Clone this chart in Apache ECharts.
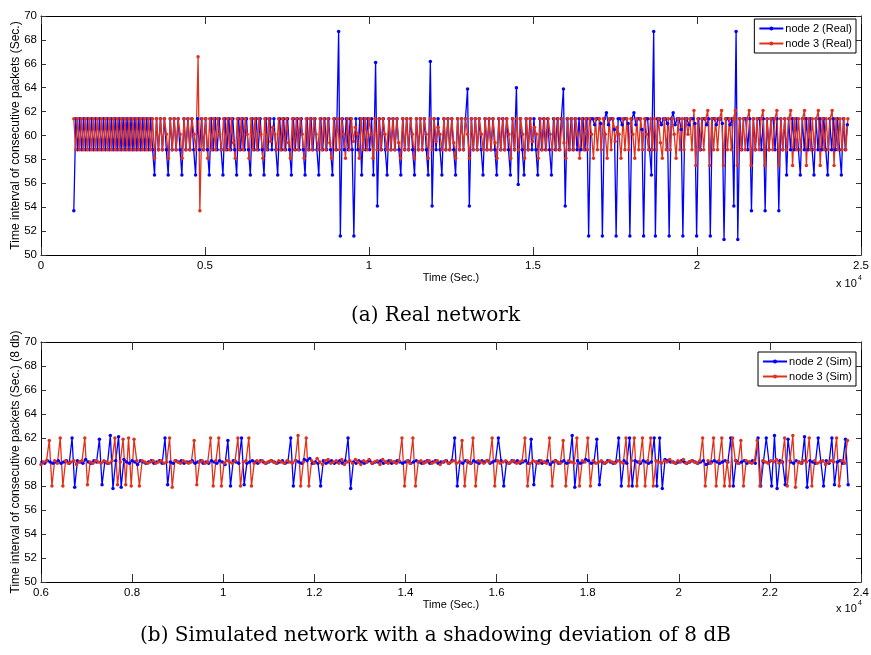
<!doctype html>
<html>
<head>
<meta charset="utf-8">
<title>Time interval of consecutive packets</title>
<script src="https://cdn.jsdelivr.net/npm/echarts@6/dist/echarts.min.js"></script>
<style>
    html, body {margin: 0; padding: 0; background: #fff;}
    #chart {width: 871px; height: 655px;}
</style>
</head>
<body>
<div id="chart"></div>
<script>
    // (a) real network: interval between consecutive packets (sec), first packet time
    const realStart2 = 1000;
    const realStart3 = 1000;
    const realNode2 = [
        53.7,
        61.4, 58.8, 61.4, 58.8, 61.4, 58.8, 61.4, 58.8, 61.4, 58.8,
        61.4, 58.8, 61.4, 58.8, 61.4, 58.8, 61.4, 58.8, 61.4, 58.8,
        61.4, 58.8, 61.4, 58.8, 61.4, 58.8, 61.4, 58.8, 61.4, 58.8,
        61.4, 58.8, 61.4, 58.8, 61.4, 58.8, 61.4, 58.8, 61.4, 58.8,
        56.7, 61.4, 58.8, 61.4, 58.8, 61.4, 58.8,
        56.7, 61.4, 58.8, 61.4, 58.8, 61.4, 58.8,
        56.7, 61.4, 58.8, 61.4, 58.8, 61.4, 58.8,
        56.7, 61.4, 58.8, 61.4, 58.8, 61.4, 58.8,
        56.7, 61.4, 58.8, 61.4, 58.8, 61.4, 58.8,
        56.7, 61.4, 58.8, 61.4, 58.8, 61.4, 58.8,
        56.7, 61.4, 58.8, 61.4, 58.8, 61.4, 58.8,
        56.7, 61.4, 58.8, 61.4, 58.8, 61.4, 58.8,
        56.7, 61.4, 58.8, 61.4, 58.8, 61.4, 58.8,
        56.7, 61.4, 58.8, 61.4, 58.8, 61.4, 58.8,
        56.7, 61.4, 58.8, 61.4, 58.8, 61.4, 58.8,
        56.7, 61.4, 58.8, 61.4, 58.8, 61.4, 58.8,
        56.7, 61.4, 58.8, 61.4, 58.8, 61.4, 58.8,
        56.7, 61.4, 58.8, 68.7, 51.6, 61.4, 58.8, 61.4, 58.8, 61.4, 58.8, 51.6,
        61.4, 58.8, 61.4, 56.7, 61.4, 58.8, 61.4, 58.8, 61.4, 56.7, 66.1, 54.1,
        61.4, 58.8, 61.4, 58.8, 56.7,
        61.4, 58.8, 61.4, 58.8, 61.4, 58.8, 56.7,
        61.4, 58.8, 61.4, 58.8, 61.4, 58.8, 56.7,
        61.4, 58.8, 61.4, 58.8, 61.4, 58.8, 56.7,
        66.2, 54.1, 61.4, 58.8, 61.4, 58.8, 56.7,
        61.4, 58.8, 61.4, 58.8, 61.4, 58.8, 56.7,
        61.4, 58.8, 61.4, 58.8, 61.4, 63.9, 54.1,
        61.4, 58.8, 61.4, 58.8, 61.4, 58.8, 56.7,
        61.4, 58.8, 61.4, 58.8, 61.4, 58.8, 56.7,
        61.4, 58.8, 61.4, 58.8, 61.4, 58.8, 56.7,
        61.4, 58.8, 64.0, 55.9, 61.4, 58.8, 56.7,
        61.4, 58.8, 61.4, 58.8, 61.4, 58.8, 56.7,
        61.4, 58.8, 61.4, 58.8, 61.4, 58.8, 56.7,
        61.4, 58.8, 61.4, 58.8, 61.4, 63.9, 54.1,
        61.4, 58.8, 61.4, 58.8, 61.4, 58.8, 61.4, 58.8, 61.4, 58.8, 61.4, 51.6,
        61.4, 61.4, 60.9, 61.4, 61.4, 61.0, 51.6,
        61.4, 61.9, 60.9, 61.4, 61.4, 60.5, 51.6,
        61.4, 61.4, 60.9, 61.4, 61.4, 61.0, 51.6,
        61.4, 61.9, 60.9, 61.4, 61.4, 60.5, 51.6,
        61.4, 61.4, 58.8, 56.7, 68.7, 51.6,
        61.4, 61.4, 60.9, 61.4, 61.4, 61.0, 51.6,
        61.4, 61.9, 60.9, 61.4, 61.4, 60.5, 51.6,
        61.4, 61.4, 60.9, 61.4, 61.4, 61.0, 51.6,
        61.4, 58.8, 61.4, 61.4, 60.9, 61.4, 51.6,
        61.4, 61.4, 60.9, 61.4, 61.4, 61.0, 51.3,
        61.4, 61.4, 60.9, 61.4, 54.1, 68.7, 51.3,
        61.4, 58.8, 61.4, 61.4, 58.8, 61.4, 53.7,
        61.4, 58.8, 61.4, 61.4, 58.8, 61.4, 53.7,
        61.4, 58.8, 61.4, 61.4, 58.8, 61.4, 53.7,
        61.4, 58.8, 61.4, 56.7,
        61.4, 58.8, 61.4, 58.8, 61.4, 58.8, 56.7,
        61.4, 58.8, 61.4, 58.8, 61.4, 58.8, 56.7,
        61.4, 58.8, 61.4, 58.8, 61.4, 58.8, 56.7,
        61.4, 58.8, 61.4, 58.8, 61.4, 58.8, 56.7,
        61.4, 58.8, 60.9
    ];
    const realNode3 = [
        61.4,
        58.8, 61.4, 58.8, 61.4, 58.8, 61.4, 58.8, 61.4, 58.8, 61.4,
        58.8, 61.4, 58.8, 61.4, 58.8, 61.4, 58.8, 61.4, 58.8, 61.4,
        58.8, 61.4, 58.8, 61.4, 58.8, 61.4, 58.8, 61.4, 58.8, 61.4,
        58.8, 61.4, 58.8, 61.4, 58.8, 61.4, 58.8, 61.4, 58.8, 61.4,
        58.1, 61.4, 58.8, 61.4, 58.8, 61.4, 60.1,
        58.1, 61.4, 58.8, 61.4, 58.8, 61.4, 60.1,
        58.1, 61.4, 58.8, 61.4, 58.8, 61.4, 60.1,
        58.8, 66.6, 53.7, 61.4, 58.8, 61.4,
        58.1, 61.4, 58.8, 61.4, 58.8, 61.4, 60.1,
        58.8, 61.4, 58.8, 61.4, 58.8, 61.4, 59.4,
        58.1, 61.4, 58.8, 61.4, 58.8, 61.4, 60.1,
        58.1, 61.4, 58.8, 61.4, 58.8, 61.4, 60.1,
        58.1, 61.4, 58.8, 61.4, 59.5, 60.7, 60.1,
        58.8, 61.4, 58.8, 61.4, 58.8, 61.4, 59.4,
        58.1, 61.4, 58.8, 61.4, 58.8, 61.4, 60.1,
        58.1, 61.4, 58.8, 61.4, 58.8, 61.4, 60.1,
        58.8, 61.4, 58.8, 61.4, 58.8, 61.4, 59.4,
        58.1, 61.4, 58.8, 61.4, 58.8, 61.4, 60.1,
        58.1, 61.4, 58.8, 61.4, 59.5, 60.7, 60.1,
        58.1, 61.4, 58.8, 61.4, 58.8, 61.4, 60.1,
        58.1, 61.4, 58.8, 61.4, 58.8, 61.4, 60.1,
        58.8, 61.4, 58.8, 61.4, 58.8, 61.4, 59.4,
        58.1, 61.4, 58.8, 61.4, 58.8, 61.4, 60.1,
        58.1, 61.4, 58.8, 61.4, 58.8, 61.4, 60.1,
        58.1, 61.4, 58.8, 61.4, 59.5, 60.7, 60.1,
        58.8, 61.4, 58.8, 61.4, 58.8, 61.4, 59.4,
        58.1, 61.4, 58.8, 61.4, 58.8, 61.4, 60.1,
        58.1, 61.4, 58.8, 61.4, 58.8, 61.4, 60.1,
        58.8, 61.4, 58.8, 61.4, 58.8, 61.4, 59.4,
        58.1, 61.4, 58.8, 61.4, 58.8, 61.4, 60.1,
        58.1, 61.4, 58.8, 61.4, 58.8, 61.4, 60.1,
        58.1, 61.4, 58.8, 61.4, 59.5, 60.7, 60.1,
        58.1, 61.4, 58.8, 61.4, 58.8, 61.4, 60.1,
        58.8, 61.4, 58.8, 61.4, 58.8, 61.4, 59.4,
        58.1, 61.4, 58.8, 61.4, 58.8, 61.4, 60.1,
        58.1, 61.4, 58.8, 61.4, 58.8, 61.4, 60.1,
        58.1, 61.4, 58.8, 61.4, 58.8, 61.4, 60.1,
        58.1, 61.4, 58.8, 61.4, 59.5, 60.7, 60.1,
        58.1, 61.4, 58.8, 61.4, 58.8, 61.4, 60.1,
        58.1, 61.4, 58.8, 61.4, 58.8, 61.4, 60.1,
        58.8, 61.4, 58.8, 61.4, 58.8, 61.4, 59.4,
        58.1, 61.4, 58.8, 61.4, 58.8, 61.4, 60.1,
        58.1, 61.4, 58.8, 61.4, 58.8, 61.4, 60.1,
        61.4, 58.8,
        62.1, 57.5, 61.4, 58.8, 61.4, 58.8, 61.4,
        62.1, 57.5, 61.4, 58.8, 61.4, 58.8, 61.4,
        62.1, 57.5, 61.4, 58.8, 61.4, 58.8, 61.4,
        62.1, 57.5, 61.4, 58.8, 61.4, 58.8, 61.4,
        62.1, 57.5, 61.4, 58.8, 61.4, 58.8, 61.4,
        62.1, 57.5, 61.4, 58.8, 61.4, 58.8, 61.4,
        62.1, 57.5, 61.4, 58.8, 61.4, 58.8, 61.4,
        62.1, 57.5, 61.4, 58.8, 61.4, 58.8, 61.4,
        62.1, 57.5, 61.4, 58.8, 61.4, 58.8, 61.4,
        62.1, 57.5, 61.4, 58.8, 61.4, 58.8, 61.4,
        62.1, 57.5, 61.4, 58.8, 61.4, 58.8, 61.4, 58.8, 61.4
    ];

    // (b) simulated network, 8 dB shadowing
    const simStart2 = 6020;
    const simStart3 = 6000;
    const simNode2 = [
        60.0, 59.9, 60.1, 60.0, 59.9, 60.0, 60.1, 59.9, 60.0, 60.1,
        59.9, 62.0, 57.9, 60.1, 60.0, 59.9, 60.2, 60.0, 59.9, 60.1,
        60.0, 61.9, 58.1, 60.0, 59.9, 62.2, 57.8, 60.1, 62.1, 57.9,
        60.2, 60.0, 59.9, 60.1, 60.0, 59.8, 60.1, 60.0, 59.9, 60.0,
        60.1, 59.9, 60.0, 60.1, 59.9, 62.0, 58.1, 60.0, 59.9, 60.1,
        60.0, 60.1, 59.9, 60.0, 60.0, 60.1, 59.9, 60.0, 60.1, 59.9,
        60.0, 59.9, 60.1, 60.0, 59.9, 60.1, 60.0, 59.8, 61.8, 58.0,
        60.1, 60.0, 59.9, 62.0, 58.1, 59.9, 60.0, 60.1, 60.0, 59.9,
        60.1, 60.0, 59.9, 60.0, 60.1, 60.0, 59.9, 60.0, 60.1, 59.9,
        60.0, 62.0, 58.0, 60.1, 60.0, 59.9, 60.2, 60.1, 60.3, 59.9,
        60.0, 59.9, 58.0, 60.1, 59.9, 60.0, 60.1, 59.9, 60.0, 60.1,
        59.9, 60.1, 62.0, 57.8, 60.0, 59.9, 60.1, 60.0, 59.9, 60.0,
        60.1, 59.9, 60.0, 60.0, 60.1, 59.9, 60.0, 60.1, 59.9, 60.0,
        60.1, 60.0, 59.9, 60.0, 60.1, 59.9, 60.0, 60.1, 60.0, 59.9,
        60.0, 60.1, 59.9, 60.0, 60.1, 59.9, 60.0, 60.0, 60.1, 59.9,
        60.1, 62.0, 58.0, 60.0, 59.9, 60.1, 60.0, 59.9, 60.1, 60.0,
        59.9, 60.1, 60.0, 60.1, 59.9, 60.0, 60.1, 62.0, 60.1, 58.0,
        60.0, 59.9, 60.1, 60.0, 60.1, 59.9, 60.0, 60.1, 59.9, 61.9,
        58.1, 60.0, 60.1, 59.9, 60.0, 60.1, 59.8, 60.0, 60.1, 59.9,
        60.0, 60.1, 59.9, 60.0, 62.2, 57.9, 60.1, 59.9, 60.0, 60.2,
        60.1, 59.9, 60.0, 61.9, 58.1, 60.0, 59.9, 60.1, 60.0, 59.9,
        60.0, 62.0, 58.0, 60.1, 59.9, 62.0, 58.0, 60.1, 60.0, 59.9,
        60.1, 60.0, 59.9, 60.0, 62.0, 58.0, 62.0, 57.8, 60.2, 60.1,
        60.0, 60.0, 59.9, 60.0, 60.1, 60.0, 59.9, 60.0, 60.1, 60.0,
        59.9, 60.0, 60.1, 59.8, 59.9, 60.0, 60.1, 60.0, 59.9, 60.0,
        60.1, 60.0, 62.0, 58.0, 60.1, 59.9, 60.0, 60.1, 59.9, 60.0,
        60.1, 59.9, 62.0, 58.0, 60.0, 62.0, 60.0, 58.0, 62.2, 57.8,
        60.1, 60.0, 58.1, 61.9, 60.0, 59.9, 60.1, 60.0, 59.9, 62.1,
        57.9, 60.1, 60.0, 59.9, 62.0, 60.0, 58.0, 60.1, 59.9, 62.0,
        58.1, 60.0, 60.1, 59.9, 61.9, 58.1
    ];
    const simNode3 = [
        59.8, 60.0, 60.1, 61.8, 58.0, 60.1, 59.9, 62.0, 58.0, 60.1,
        59.9, 60.0, 60.1, 59.8, 60.0, 60.1, 62.0, 58.1, 60.0, 59.9,
        60.1, 60.0, 59.9, 60.1, 60.0, 59.9, 60.1, 62.0, 58.1, 60.0,
        61.9, 58.1, 62.0, 58.0, 61.9, 60.1, 58.0, 60.1, 60.0, 59.9,
        60.0, 60.1, 59.9, 60.0, 60.1, 59.9, 60.0, 62.0, 57.9, 60.1,
        60.0, 59.9, 60.1, 60.0, 59.9, 60.0, 61.8, 58.1, 60.0, 60.1,
        59.9, 60.0, 62.0, 58.0, 60.1, 62.0, 58.0, 59.9, 60.1, 60.0,
        59.9, 60.1, 62.0, 58.0, 60.0, 60.1, 62.0, 58.0, 59.9, 60.1,
        60.0, 60.1, 59.9, 60.0, 60.1, 60.0, 59.9, 60.1, 60.0, 59.9,
        60.1, 60.0, 59.9, 60.1, 62.2, 58.0, 60.0, 62.0, 58.0, 60.1,
        59.9, 60.3, 60.0, 59.8, 60.1, 60.2, 59.9, 60.0, 60.1, 59.9,
        60.2, 59.8, 60.0, 60.1, 59.9, 60.2, 60.0, 59.8, 60.1, 60.0,
        60.2, 59.9, 60.0, 60.1, 59.8, 60.2, 60.0, 59.9, 60.1, 60.0,
        59.9, 60.1, 62.0, 58.0, 60.1, 59.9, 62.0, 58.0, 60.0, 60.1,
        59.9, 60.0, 60.1, 59.9, 60.0, 60.1, 59.8, 60.0, 60.1, 59.9,
        60.0, 60.1, 59.9, 60.0, 61.8, 58.0, 60.1, 59.9, 62.0, 58.0,
        60.1, 60.0, 59.9, 60.1, 60.0, 62.0, 58.0, 60.1, 59.9, 60.0,
        60.1, 59.9, 60.0, 60.1, 59.9, 60.0, 60.1, 62.0, 58.0, 59.9,
        60.1, 60.0, 59.9, 60.1, 60.0, 59.9, 62.0, 58.0, 60.1, 60.0,
        59.9, 61.8, 58.0, 60.1, 60.0, 59.9, 62.0, 58.0, 60.1, 60.0,
        62.0, 58.0, 60.1, 59.9, 60.0, 60.1, 59.9, 60.0, 60.1, 60.0,
        59.9, 60.1, 60.0, 59.9, 62.0, 58.0, 60.1, 62.0, 58.0, 60.0,
        62.0, 58.0, 60.1, 62.0, 58.0, 60.1, 60.0, 59.9, 60.1, 60.0,
        60.2, 60.0, 59.9, 60.1, 60.0, 60.2, 59.9, 60.0, 60.1, 60.0,
        59.9, 60.1, 62.0, 58.0, 60.1, 59.9, 62.0, 58.0, 60.1, 62.0,
        58.0, 60.0, 58.0, 62.0, 60.1, 59.9, 61.8, 58.0, 60.1, 60.0,
        59.9, 60.1, 61.8, 58.0, 60.1, 60.0, 59.9, 60.1, 60.0, 60.2,
        59.9, 60.0, 62.0, 58.0, 60.1, 62.2, 57.9, 60.0, 59.9, 60.1,
        60.0, 62.0, 58.0, 60.1, 59.9, 60.0, 60.1, 59.8, 60.0, 60.1,
        60.0, 62.0, 58.0, 60.1, 59.9, 61.8
    ];

    const blue = '#0000ff';
    const red = '#e0321a';
    const font = '"Liberation Sans", Arial, Helvetica, sans-serif';
    const captionFont = '"DejaVu Serif", "Liberation Serif", serif';

    // each packet arrives one interval after the previous one
    function toPoints(start, intervals) {
        let t = start;
        return intervals.map(function (v, i) {
            if (i > 0) t += v;
            return [t, v];
        });
    }

    function xAxis(grid, min, max, step, top) {
        return {
            type: 'value', gridIndex: grid, min: min, max: max, interval: step,
            position: top ? 'top' : 'bottom',
            axisLine: {show: true, onZero: false, lineStyle: {color: '#000', width: 1}},
            axisTick: {show: true, inside: true, length: 8, lineStyle: {color: '#333'}},
            axisLabel: {
                show: !top, color: '#000', fontSize: 11.5, fontFamily: font, margin: 5,
                formatter: function (v) { return String(+(v / 1e4).toFixed(1)); }
            },
            splitLine: {show: false},
            name: top ? '' : 'Time (Sec.)', nameLocation: 'middle', nameGap: 17,
            nameMoveOverlap: false,
            nameTextStyle: {color: '#000', fontSize: 11, fontFamily: font}
        };
    }

    function yAxis(grid, right, name) {
        return {
            type: 'value', gridIndex: grid, min: 50, max: 70, interval: 2,
            position: right ? 'right' : 'left',
            axisLine: {show: true, onZero: false, lineStyle: {color: '#000', width: 1}},
            axisTick: {show: true, inside: true, length: 5, lineStyle: {color: '#333'}},
            axisLabel: {show: !right, color: '#000', fontSize: 11.5, fontFamily: font, margin: 4},
            splitLine: {show: false},
            name: right ? '' : name, nameLocation: 'middle', nameGap: 19, nameRotate: 90,
            nameMoveOverlap: false,
            nameTextStyle: {color: '#000', fontSize: 12, fontFamily: font}
        };
    }

    function lineSeries(name, color, xi, yi, data) {
        return {
            name: name, type: 'line', xAxisIndex: xi, yAxisIndex: yi, data: data,
            symbol: 'circle', symbolSize: 3.5, showAllSymbol: true,
            itemStyle: {color: color}, lineStyle: {color: color, width: 1.3},
            animation: false, silent: true
        };
    }

    function legend(names, top) {
        return {
            data: names, orient: 'vertical', right: 15, top: top,
            backgroundColor: '#fff', borderColor: '#000', borderWidth: 1, borderRadius: 0,
            padding: [4, 4, 4, 4], itemGap: 4, itemWidth: 24, itemHeight: 5,
            selectedMode: false,
            textStyle: {color: '#000', fontSize: 11, fontFamily: font, padding: [0, 0, 0, -3]}
        };
    }

    const chart = echarts.init(document.getElementById('chart'), null, {renderer: 'canvas'});
    chart.setOption({
        animation: false,
        textStyle: {fontFamily: font},
        grid: [
            {left: 41, right: 10, top: 16, height: 239, outerBoundsMode: 'none'},
            {left: 41, right: 10, top: 342, height: 240, outerBoundsMode: 'none'}
        ],
        xAxis: [
            xAxis(0, 0, 25000, 5000, false),
            xAxis(0, 0, 25000, 5000, true),
            xAxis(1, 6000, 24000, 2000, false),
            xAxis(1, 6000, 24000, 2000, true)
        ],
        yAxis: [
            yAxis(0, false, 'Time interval of consecutive packets (Sec.)'),
            yAxis(0, true, ''),
            yAxis(1, false, 'Time interval of consecutive packets (Sec.) (8 db)'),
            yAxis(1, true, '')
        ],
        legend: [
            legend(['node 2 (Real)', 'node 3 (Real)'], 19),
            legend(['node 2 (Sim)', 'node 3 (Sim)'], 352)
        ],
        series: [
            lineSeries('node 2 (Real)', blue, 0, 0, toPoints(realStart2, realNode2)),
            lineSeries('node 3 (Real)', red, 0, 0, toPoints(realStart3, realNode3)),
            lineSeries('node 2 (Sim)', blue, 2, 2, toPoints(simStart2, simNode2)),
            lineSeries('node 3 (Sim)', red, 2, 2, toPoints(simStart3, simNode3))
        ],
        graphic: [
            {type: 'text', left: 836, top: 278, style: {text: 'x 10', fontSize: 11, fontFamily: font, fill: '#000'}},
            {type: 'text', left: 858, top: 275, style: {text: '4', fontSize: 7, fontFamily: font, fill: '#000'}},
            {type: 'text', left: 836, top: 603, style: {text: 'x 10', fontSize: 11, fontFamily: font, fill: '#000'}},
            {type: 'text', left: 858, top: 600, style: {text: '4', fontSize: 7, fontFamily: font, fill: '#000'}},
            {type: 'text', left: 'center', top: 306, style: {text: '(a) Real network', fontSize: 20, fontFamily: captionFont, fill: '#000'}},
            {type: 'text', left: 'center', top: 626, style: {text: '(b) Simulated network with a shadowing deviation of 8 dB', fontSize: 20, fontFamily: captionFont, fill: '#000'}}
        ]
    });

    window.onresize = function () {
        chart.resize();
    };
</script>
</body>
</html>
